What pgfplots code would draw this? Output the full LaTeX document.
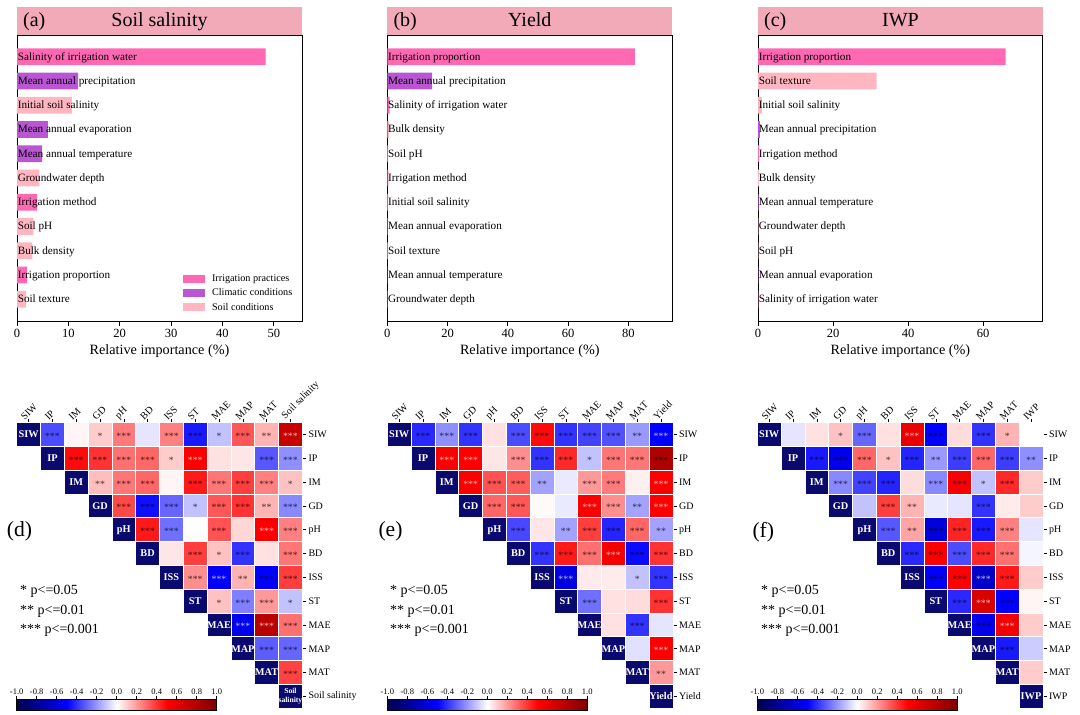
\documentclass[border=0pt]{standalone}
\usepackage{fontspec}
\setmainfont{Liberation Serif}
\usepackage{pgfplots}
\usepackage{pgfplotstable}
\pgfplotsset{compat=1.18}
\pgfplotsset{/pgf/number format/assume math mode=true}

\definecolor{irr}{HTML}{FF69B4}
\definecolor{clim}{HTML}{BA55D3}
\definecolor{soil}{HTML}{FFB6C1}
\definecolor{titc}{HTML}{F2A9B8}
\definecolor{diagc}{RGB}{10,10,110}

\newcommand\lab{\fontsize{11.2}{13}\selectfont}
\newcommand\tickf{\fontsize{12.5}{14}\selectfont}
\newcommand\xlabf{\fontsize{14.2}{16}\selectfont}
\newcommand\titf{\fontsize{20}{22}\selectfont}
\newcommand\legf{\fontsize{10.2}{12}\selectfont}
\newcommand\hlab{\fontsize{10}{12}\selectfont}
\newcommand\starf{\fontsize{9.8}{10}\selectfont}
\newcommand\diagf{\bfseries\fontsize{10.3}{11}\selectfont}
\newcommand\diagsf{\bfseries\fontsize{7.6}{8.6}\selectfont}
\newcommand\cbf{\fontsize{8.5}{10}\selectfont}
\newcommand\pf{\fontsize{14}{16}\selectfont}
\newcommand\panf{\fontsize{21.6}{24}\selectfont}

\newcommand\bl[2]{\node[anchor=base west,inner sep=0.6pt,font=\lab,yshift=-3.5pt] at (axis cs:0,#1) {#2};}

% ---------- correlation values: x=column, y=row, r
\pgfplotstableread{
x y r
1 0 -0.35
2 0 0.02
3 0 0.10
4 0 0.26
5 0 -0.05
6 0 0.25
7 0 -0.45
8 0 -0.12
9 0 0.33
10 0 0.15
11 0 0.72
2 1 0.48
3 1 0.40
4 1 0.28
5 1 0.30
6 1 0.10
7 1 0.52
8 1 0.06
9 1 0.05
10 1 -0.33
11 1 -0.22
3 2 0.13
4 2 0.27
5 2 0.30
6 2 0.02
7 2 0.45
8 2 0.27
9 2 0.38
10 2 0.25
11 2 0.12
4 3 0.36
5 3 -0.47
6 3 -0.30
7 3 -0.12
8 3 0.33
9 3 0.40
10 3 0.15
11 3 -0.23
5 4 0.45
6 4 -0.28
7 4 0.00
8 4 0.34
9 4 0.08
10 4 0.52
11 4 0.25
6 5 0.05
7 5 0.38
8 5 0.12
9 5 -0.40
10 5 0.06
11 5 0.27
7 6 0.22
8 6 -0.52
9 6 0.15
10 6 -0.50
11 6 0.38
8 7 0.12
9 7 -0.25
10 7 0.20
11 7 -0.12
9 8 -0.55
10 8 0.78
11 8 0.28
10 9 -0.32
11 9 -0.30
11 10 0.37
}\tabD

\pgfplotstableread{
x y r
1 0 -0.42
2 0 -0.22
3 0 -0.40
4 0 0.06
5 0 -0.35
6 0 0.48
7 0 -0.40
8 0 -0.37
9 0 -0.34
10 0 -0.20
11 0 -0.50
2 1 0.52
3 1 0.50
4 1 0.05
5 1 0.22
6 1 -0.40
7 1 0.42
8 1 -0.12
9 1 0.27
10 1 0.27
11 1 0.82
3 2 0.52
4 2 0.34
5 2 0.32
6 2 -0.18
7 2 -0.04
8 2 0.20
9 2 0.26
10 2 0.03
11 2 0.52
4 3 0.30
5 3 0.33
6 3 0.01
7 3 -0.04
8 3 0.52
9 3 0.22
10 3 -0.18
11 3 0.50
5 4 -0.36
6 4 0.05
7 4 -0.18
8 4 0.38
9 4 -0.43
10 4 0.30
11 4 -0.18
6 5 -0.40
7 5 0.45
8 5 0.28
9 5 0.54
10 5 -0.48
11 5 0.40
7 6 -0.58
8 6 0.04
9 6 0.04
10 6 -0.12
11 6 -0.40
8 7 -0.28
9 7 0.06
10 7 0.07
11 7 0.40
9 8 0.06
10 8 -0.40
11 8 -0.05
10 9 -0.06
11 9 0.52
11 10 0.20
}\tabE

\pgfplotstableread{
x y r
1 0 -0.05
2 0 0.06
3 0 0.12
4 0 -0.30
5 0 0.06
6 0 0.58
7 0 -0.50
8 0 0.07
9 0 -0.40
10 0 0.15
11 0 0.00
2 1 -0.45
3 1 -0.55
4 1 0.30
5 1 0.12
6 1 -0.43
7 1 -0.20
8 1 -0.38
9 1 0.30
10 1 -0.38
11 1 -0.22
3 2 -0.23
4 2 -0.37
5 2 -0.43
6 2 0.07
7 2 -0.23
8 2 0.52
9 2 -0.12
10 2 0.42
11 2 0.10
4 3 -0.12
5 3 0.38
6 3 0.15
7 3 -0.04
8 3 -0.05
9 3 -0.40
10 3 0.04
11 3 0.10
5 4 -0.33
6 4 0.18
7 4 -0.60
8 4 0.43
9 4 -0.45
10 4 0.25
11 4 -0.05
6 5 -0.42
7 5 0.52
8 5 -0.35
9 5 0.42
10 5 0.28
11 5 -0.02
7 6 -0.52
8 6 0.50
9 6 -0.65
10 6 0.45
11 6 0.10
8 7 -0.42
9 7 0.65
10 7 -0.50
11 7 0.02
9 8 -0.55
10 8 0.55
11 8 0.10
10 9 -0.45
11 9 -0.10
11 10 0.10
}\tabF

% ---------- significance marks (dark text / light text)
\pgfplotstableread{
x y lab
1 0 ***
3 0 *
4 0 ***
6 0 ***
7 0 ***
8 0 *
9 0 ***
10 0 **
2 1 ***
3 1 ***
4 1 ***
5 1 ***
6 1 *
10 1 ***
11 1 ***
3 2 **
4 2 ***
5 2 ***
7 2 ***
8 2 ***
9 2 ***
10 2 ***
11 2 *
4 3 ***
5 3 ***
6 3 ***
7 3 *
8 3 ***
9 3 ***
10 3 **
11 3 ***
5 4 ***
6 4 ***
8 4 ***
11 4 ***
7 5 ***
8 5 *
9 5 ***
11 5 ***
7 6 ***
9 6 **
10 6 ***
11 6 ***
8 7 *
9 7 ***
10 7 ***
11 7 *
11 8 ***
10 9 ***
11 9 ***
11 10 ***
}\stD
\pgfplotstableread{
x y lab
11 0 ***
7 1 ***
10 4 ***
8 6 ***
9 8 ***
10 8 ***
}\stDL

\pgfplotstableread{
x y lab
1 0 ***
2 0 ***
3 0 ***
5 0 ***
6 0 ***
7 0 ***
8 0 ***
9 0 ***
10 0 **
5 1 ***
6 1 ***
7 1 ***
8 1 *
9 1 ***
10 1 ***
11 1 ***
4 2 ***
5 2 ***
6 2 **
8 2 ***
9 2 ***
4 3 ***
5 3 ***
9 3 ***
10 3 **
5 4 ***
7 4 **
8 4 ***
9 4 ***
10 4 ***
11 4 **
6 5 ***
7 5 ***
8 5 ***
10 5 ***
11 5 ***
10 6 *
11 6 ***
8 7 ***
11 7 ***
10 8 ***
11 10 **
}\stE
\pgfplotstableread{
x y lab
11 0 ***
2 1 ***
3 1 ***
3 2 ***
11 2 ***
8 3 ***
11 3 ***
9 5 ***
7 6 ***
11 9 ***
}\stEL

\pgfplotstableread{
x y lab
3 0 *
4 0 ***
7 0 ***
9 0 ***
10 0 *
2 1 ***
3 1 ***
4 1 ***
5 1 *
6 1 ***
7 1 **
8 1 ***
9 1 ***
10 1 ***
11 1 **
3 2 ***
4 2 ***
5 2 ***
7 2 ***
8 2 ***
9 2 *
10 2 ***
5 3 ***
6 3 **
9 3 ***
5 4 ***
6 4 **
7 4 ***
8 4 ***
9 4 ***
10 4 ***
6 5 ***
7 5 ***
8 5 ***
9 5 ***
10 5 ***
7 6 ***
8 6 ***
10 6 ***
8 7 ***
10 7 ***
9 8 ***
10 9 ***
}\stF
\pgfplotstableread{
x y lab
6 0 ***
9 6 ***
9 7 ***
10 8 ***
}\stFL

\pgfplotstableread{
x y
0 0
1 1
2 2
3 3
4 4
5 5
6 6
7 7
8 8
9 9
10 10
11 11
}\diagAll

\pgfplotstableread{
x name
0 SIW
1 IP
2 IM
3 GD
4 pH
5 BD
6 ISS
7 ST
8 MAE
9 MAP
10 MAT
}\labD
\pgfplotstableread{
x name
0 SIW
1 IP
2 IM
3 GD
4 pH
5 BD
6 ISS
7 ST
8 MAE
9 MAP
10 MAT
11 Yield
}\labE
\pgfplotstableread{
x name
0 SIW
1 IP
2 IM
3 GD
4 pH
5 BD
6 ISS
7 ST
8 MAE
9 MAP
10 MAT
11 IWP
}\labF

\pgfplotsset{
  barax/.style={
    anchor=south west, width=285pt, height=286pt, scale only axis,
    ymin=-0.93, ymax=10.87, ytick=\empty,
    xtick pos=left, tick align=outside, major tick length=4pt,
    tick style={black, line width=0.8pt},
    axis line style={black, line width=0.9pt},
    ticklabel style={font=\tickf},
    xlabel={Relative importance (\%)},
    xlabel style={font=\xlabf},
    clip=false,
  },
  hbar/.style={xbar, bar width=16.7pt, bar shift=0pt, draw=none, fill=#1},
  hm/.style={
    anchor=south west, width=285.6pt, height=285.6pt, scale only axis,
    xmin=-0.5, xmax=11.5, ymin=-0.5, ymax=11.5,
    axis x line*=top, axis y line*=right, axis line style={draw=none},
    xtick={0,...,11}, ytick={0,...,11},
    tick align=outside, major tick length=4pt,
    tick style={black, line width=0.6pt},
    xticklabel style={font=\hlab, rotate=45, anchor=south west, inner sep=1pt, xshift=-5pt},
    yticklabel style={font=\hlab, inner sep=2pt},
    colormap={seismic}{rgb=(0,0,0.3) rgb=(0,0,1) rgb=(1,1,1) rgb=(1,0,0) rgb=(0.5,0,0)},
    point meta min=-1, point meta max=1,
    colorbar horizontal,
    colorbar style={
      at={(parent axis.south west)}, anchor=south west, yshift=6.5pt,
      width=200pt, height=11pt, scale only axis,
      xtick={-1,-0.8,-0.6,-0.4,-0.2,0,0.2,0.4,0.6,0.8,1},
      xtick pos=top, xticklabel pos=upper,
      tick align=outside, major tick length=3.5pt,
      tick style={black, line width=0.6pt},
      axis line style={black, line width=0.6pt},
      xticklabel style={font=\cbf, inner sep=1.5pt},
      /pgf/number format/fixed, /pgf/number format/fixed zerofill,
      /pgf/number format/precision=1,
    },
    clip=false,
  },
  hmcells/.style={scatter, only marks, mark=square*, mark size=11.9pt,
    scatter/use mapped color={draw=white, fill=mapped color, line width=0.8pt},
    point meta=\thisrow{r}},
  hmstars/.style={only marks, mark=none, point meta=explicit symbolic,
    nodes near coords, nodes near coords align=center,
    every node near coord/.append style={font=\starf, text=#1, text opacity=0.72, inner sep=0pt, yshift=-1.6pt}},
  hmdiagsq/.style={only marks, mark=square*, mark size=11.9pt,
    mark options={draw=white, fill=diagc, line width=0.8pt}},
  hmdiaglab/.style={only marks, mark=none, point meta=explicit symbolic,
    nodes near coords, nodes near coords align=center,
    every node near coord/.append style={font=\diagf, text=white, inner sep=0pt}},
}

\newcommand\titlebar[3]{%
  \begin{scope}[shift={(#1pt,0pt)}]
    \fill[titc] (0pt,680pt) rectangle (285pt,707.7pt);
    \node[anchor=base west, font=\titf, inner sep=0pt] at (6pt,688.3pt) {#2};
    \node[anchor=base, font=\titf, inner sep=0pt] at (142.5pt,688.3pt) {#3};
  \end{scope}}

\begin{document}
\begin{tikzpicture}
\useasboundingbox (0,0) rectangle (1080pt,715pt);

\titlebar{17}{(a)}{Soil salinity}
\titlebar{387.3}{(b)}{Yield}
\titlebar{758}{(c)}{IWP}

% ---------------- (a)
\begin{axis}[barax, at={(17pt,393.3pt)}, xmin=0, xmax=55.5, xtick={0,10,20,30,40,50},
  legend style={at={(0.582,0.171)}, anchor=north west, draw=none, fill=none,
    font=\legf, row sep=1.6pt, inner sep=0pt,
    /tikz/every odd column/.append style={column sep=5pt}},
  legend cell align=left,
  legend image code/.code={\fill[#1] (0pt,-3.8pt) rectangle (22pt,4pt);}]
\addplot[hbar=irr] coordinates {(48.4,10) (3.9,4) (1.95,1)};
\addplot[hbar=clim] coordinates {(11.9,9) (6.0,7) (4.9,6)};
\addplot[hbar=soil] coordinates {(10.7,8) (4.35,5) (3.2,3) (3.0,2) (1.8,0)};
\legend{Irrigation practices, Climatic conditions, Soil conditions}
\bl{10}{Salinity of irrigation water}
\bl{9}{Mean annual precipitation}
\bl{8}{Initial soil salinity}
\bl{7}{Mean annual evaporation}
\bl{6}{Mean annual temperature}
\bl{5}{Groundwater depth}
\bl{4}{Irrigation method}
\bl{3}{Soil pH}
\bl{2}{Bulk density}
\bl{1}{Irrigation proportion}
\bl{0}{Soil texture}
\end{axis}

% ---------------- (b)
\begin{axis}[barax, at={(387.3pt,393.3pt)}, xmin=0, xmax=94.6, xtick={0,20,40,60,80}]
\addplot[hbar=irr] coordinates {(82.2,10) (0.8,8) (0.35,5)};
\addplot[hbar=clim] coordinates {(14.9,9) (0.2,3) (0.12,1)};
\addplot[hbar=soil] coordinates {(0.5,7) (0.25,6) (0.25,4) (0.15,2) (0.1,0)};
\bl{10}{Irrigation proportion}
\bl{9}{Mean annual precipitation}
\bl{8}{Salinity of irrigation water}
\bl{7}{Bulk density}
\bl{6}{Soil pH}
\bl{5}{Irrigation method}
\bl{4}{Initial soil salinity}
\bl{3}{Mean annual evaporation}
\bl{2}{Soil texture}
\bl{1}{Mean annual temperature}
\bl{0}{Groundwater depth}
\end{axis}

% ---------------- (c)
\begin{axis}[barax, at={(758pt,393.3pt)}, width=284.7pt, xmin=0, xmax=75.9, xtick={0,20,40,60}]
\addplot[hbar=irr] coordinates {(66.0,10) (0.3,6) (0.1,0)};
\addplot[hbar=clim] coordinates {(0.5,7) (0.15,4) (0.1,1)};
\addplot[hbar=soil] coordinates {(31.6,9) (1.0,8) (0.2,5) (0.1,3) (0.1,2)};
\bl{10}{Irrigation proportion}
\bl{9}{Soil texture}
\bl{8}{Initial soil salinity}
\bl{7}{Mean annual precipitation}
\bl{6}{Irrigation method}
\bl{5}{Bulk density}
\bl{4}{Mean annual temperature}
\bl{3}{Groundwater depth}
\bl{2}{Soil pH}
\bl{1}{Mean annual evaporation}
\bl{0}{Salinity of irrigation water}
\end{axis}

% ---------------- (d)
\begin{axis}[hm, at={(16.7pt,6.7pt)},
  xticklabels={SIW,IP,IM,GD,pH,BD,ISS,ST,MAE,MAP,MAT,Soil salinity},
  yticklabels={Soil salinity,MAT,MAP,MAE,ST,ISS,BD,pH,GD,IM,IP,SIW}]
\addplot[hmcells] table[x=x, y expr=11-\thisrow{y}] {\tabD};
\addplot[hmdiagsq] table[x=x, y expr=11-\thisrow{y}] {\diagAll};
\addplot[hmstars=black] table[x=x, y expr=11-\thisrow{y}, meta=lab] {\stD};
\addplot[hmstars=white] table[x=x, y expr=11-\thisrow{y}, meta=lab] {\stDL};
\addplot[hmdiaglab] table[x=x, y expr=11-\thisrow{x}, meta=name] {\labD};
\addplot[only marks, mark=none, nodes near coords={Soil\\salinity}, nodes near coords align=center,
  every node near coord/.append style={font=\diagsf, text=white, align=center, inner sep=0pt}]
  coordinates {(11,0)};
\end{axis}

% ---------------- (e)
\begin{axis}[hm, at={(387.3pt,6.7pt)},
  xticklabels={SIW,IP,IM,GD,pH,BD,ISS,ST,MAE,MAP,MAT,Yield},
  yticklabels={Yield,MAT,MAP,MAE,ST,ISS,BD,pH,GD,IM,IP,SIW}]
\addplot[hmcells] table[x=x, y expr=11-\thisrow{y}] {\tabE};
\addplot[hmdiagsq] table[x=x, y expr=11-\thisrow{y}] {\diagAll};
\addplot[hmstars=black] table[x=x, y expr=11-\thisrow{y}, meta=lab] {\stE};
\addplot[hmstars=white] table[x=x, y expr=11-\thisrow{y}, meta=lab] {\stEL};
\addplot[hmdiaglab] table[x=x, y expr=11-\thisrow{x}, meta=name] {\labE};
\end{axis}

% ---------------- (f)
\begin{axis}[hm, at={(757.3pt,6.7pt)},
  xticklabels={SIW,IP,IM,GD,pH,BD,ISS,ST,MAE,MAP,MAT,IWP},
  yticklabels={IWP,MAT,MAP,MAE,ST,ISS,BD,pH,GD,IM,IP,SIW}]
\addplot[hmcells] table[x=x, y expr=11-\thisrow{y}] {\tabF};
\addplot[hmdiagsq] table[x=x, y expr=11-\thisrow{y}] {\diagAll};
\addplot[hmstars=black] table[x=x, y expr=11-\thisrow{y}, meta=lab] {\stF};
\addplot[hmstars=white] table[x=x, y expr=11-\thisrow{y}, meta=lab] {\stFL};
\addplot[hmdiaglab] table[x=x, y expr=11-\thisrow{x}, meta=name] {\labF};
\end{axis}

\node[anchor=west, font=\pf, inner sep=0pt] at (20pt,123.3pt) {* p<=0.05};
\node[anchor=west, font=\pf, inner sep=0pt] at (20pt,103.7pt) {** p<=0.01};
\node[anchor=west, font=\pf, inner sep=0pt] at (20pt,84.7pt) {*** p<=0.001};
\node[anchor=west, font=\panf, inner sep=0pt] at (6.7pt,183.3pt) {(d)};

\node[anchor=west, font=\pf, inner sep=0pt] at (390pt,123.3pt) {* p<=0.05};
\node[anchor=west, font=\pf, inner sep=0pt] at (390pt,103.7pt) {** p<=0.01};
\node[anchor=west, font=\pf, inner sep=0pt] at (390pt,84.7pt) {*** p<=0.001};
\node[anchor=west, font=\panf, inner sep=0pt] at (378.3pt,183.3pt) {(e)};

\node[anchor=west, font=\pf, inner sep=0pt] at (761pt,123.3pt) {* p<=0.05};
\node[anchor=west, font=\pf, inner sep=0pt] at (761pt,103.7pt) {** p<=0.01};
\node[anchor=west, font=\pf, inner sep=0pt] at (761pt,84.7pt) {*** p<=0.001};
\node[anchor=west, font=\panf, inner sep=0pt] at (752.3pt,183.3pt) {(f)};
\end{tikzpicture}
\end{document}
